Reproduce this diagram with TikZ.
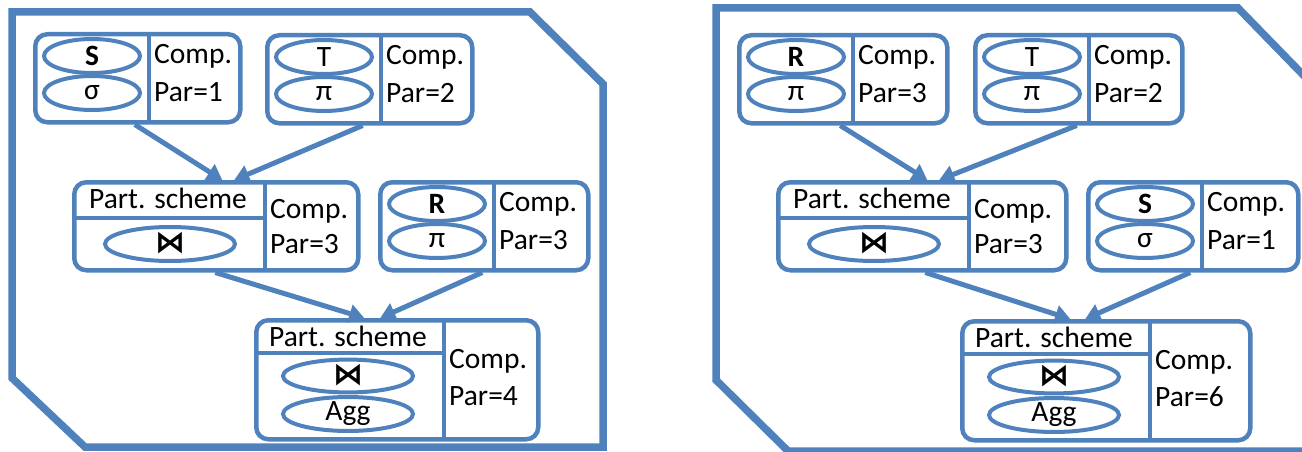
\documentclass[tikz,border=0pt]{standalone}
\usepackage{fontspec}
\setmainfont{Carlito}
\newfontfamily\symf{DejaVu Sans}
\usetikzlibrary{arrows.meta,shapes.geometric}
\definecolor{ob}{RGB}{79,129,189}
\tikzset{
 cbox/.style={draw=ob, line width=4.5pt, rounded corners=12pt, anchor=north west, inner sep=0pt},
 sepline/.style={draw=ob, line width=4.5pt},
 ell/.style={ellipse, draw=ob, line width=4pt, inner sep=0pt, font=\fontsize{29.5}{36}\selectfont},
 lab/.style={anchor=west, inner sep=0pt, font=\fontsize{29.5}{36}\selectfont},
 clab/.style={inner sep=0pt, font=\fontsize{29.5}{36}\selectfont},
 arr/.style={draw=ob, line width=5pt, -{Triangle[length=15pt,width=18pt]}},
 frame/.style={draw=ob, line width=7.5pt, line join=miter}
}
\newcommand\symj{\raisebox{3pt}{\symf\bfseries\fontsize{30}{30}\selectfont ⋈}}
% two-ellipse box: name, x, y, top, bottom, par, width
\newcommand\boxone[7]{%
 \begin{scope}[shift={(#2,#3)}]
 \node[cbox, minimum width=#7pt, minimum height=88pt] (#1) at (0,0) {};
 \draw[sepline] (116,0) -- (116,88);
 \node[ell, minimum width=96pt, minimum height=34pt] (#1-e1) at (59,24) {#4};
 \node[ell, minimum width=96pt, minimum height=34pt] (#1-e2) at (59,61) {#5};
 \node[lab] (#1-c) at (121,24) {Comp.};
 \node[lab] (#1-p) at (121,60) {Par=#6};
 \end{scope}}
% part scheme + one ellipse
\newcommand\boxtwo[4]{%
 \begin{scope}[shift={(#2,#3)}]
 \node[cbox, minimum width=#4pt, minimum height=88pt] (#1) at (0,0) {};
 \draw[sepline] (193,0) -- (193,88);
 \draw[sepline] (0,38) -- (193,38);
 \node[clab] (#1-s) at (96,18) {Part. scheme};
 \node[ell, minimum width=130pt, minimum height=34pt] (#1-e1) at (98,64) {\symj};
 \node[lab] (#1-c) at (198,31) {Comp.};
 \node[lab] (#1-p) at (198,64) {Par=3};
 \end{scope}}
% part scheme + two ellipses
\newcommand\boxthree[5]{%
 \begin{scope}[shift={(#2,#3)}]
 \node[cbox, minimum width=#4pt, minimum height=119pt] (#1) at (0,0) {};
 \draw[sepline] (190,0) -- (190,119);
 \draw[sepline] (0,35) -- (190,35);
 \node[clab] (#1-s) at (94,18) {Part. scheme};
 \node[ell, minimum width=130pt, minimum height=32pt] (#1-e1) at (94,58) {\symj};
 \node[ell, minimum width=130pt, minimum height=32pt] (#1-e2) at (94,96) {Agg};
 \node[lab] (#1-c) at (195,43) {Comp.};
 \node[lab] (#1-p) at (195,78) {Par=#5};
 \end{scope}}
\begin{document}
\begin{tikzpicture}[x=1pt,y=-1pt]
\useasboundingbox (0,0) rectangle (1302,452);
\clip (0,0) rectangle (1302,452);
% frames
\draw[frame] (12,12) -- (530,12) -- (603,84) -- (603,447) -- (85,447) -- (12,378) -- cycle;
\draw[frame] (716,8) -- (1238,8) -- (1312,84) -- (1312,451) -- (788,451) -- (716,380) -- cycle;
% left diagram
\boxone{A}{33}{32}{\textbf{S}}{σ}{1}{205}
\boxone{B}{265}{33}{T}{π}{2}{205}
\boxtwo{C}{72}{180}{284}
\boxone{D}{378}{180}{\textbf{R}}{π}{3}{208}
\boxthree{E}{254}{318}{282}{4}
\draw[arr] ([xshift=-3pt]A.south) -- ([xshift=6pt]C.north);
\draw[arr] ([xshift=-7pt]B.south) -- ([xshift=18pt]C.north);
\draw[arr] ([xshift=-1pt]C.south) -- ([xshift=-33pt]E.north);
\draw[arr] ([xshift=-2pt]D.south) -- ([xshift=-17pt]E.north);
% right diagram
\boxone{R}{737}{33}{\textbf{R}}{π}{3}{208}
\boxone{T}{973}{33}{T}{π}{2}{207}
\boxtwo{C2}{776}{180}{288}
\boxone{S}{1086}{180}{\textbf{S}}{σ}{1}{210}
\boxthree{E2}{960}{319}{288}{6}
\draw[arr] ([xshift=-3pt]R.south) -- ([xshift=5pt]C2.north);
\draw[arr] ([xshift=-2pt]T.south) -- ([xshift=17pt]C2.north);
\draw[arr] ([xshift=3pt]C2.south) -- ([xshift=-36pt]E2.north);
\draw[arr] ([xshift=-3pt]S.south) -- ([xshift=-21pt]E2.north);
\end{tikzpicture}
\end{document}
